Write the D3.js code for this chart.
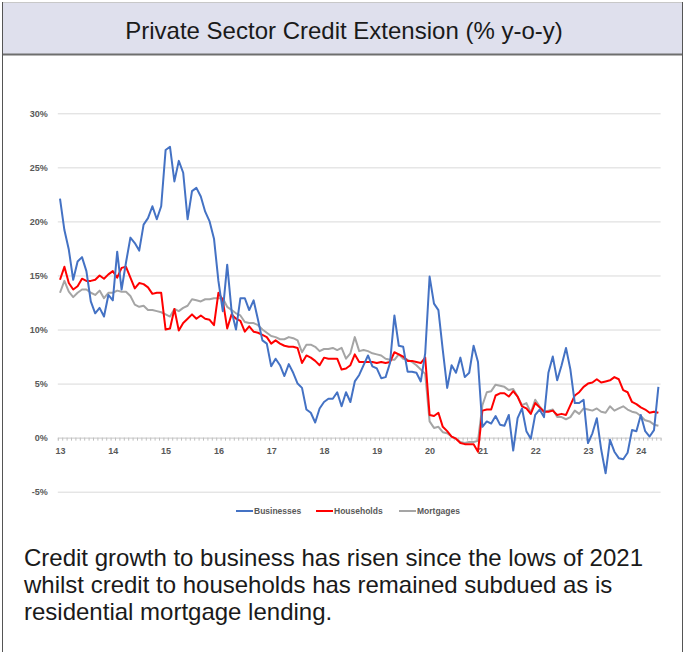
<!DOCTYPE html>
<html>
<head>
<meta charset="utf-8">
<script src="https://cdn.jsdelivr.net/npm/d3@7"></script>
<style>
  body { margin: 0; background: #fff; }
  svg { display: block; font-family: "Liberation Sans", Arial, sans-serif; }
</style>
</head>
<body>
<svg id="chart" width="685" height="652"></svg>
<script>
// monthly % y-o-y, Jan 2013 .. May 2024
const businesses = [
  22.1, 19.2, 17.4, 14.6, 16.3, 16.7, 15.4, 12.6, 11.5, 12.0, 11.2, 13.2,
  12.7, 17.2, 13.7, 16.2, 18.5, 18.0, 17.3, 19.7, 20.3, 21.4, 20.2, 21.4,
  26.6, 26.9, 23.7, 25.6, 24.5, 20.2, 22.8, 23.1, 22.3, 20.9, 20.0, 18.4,
  14.5, 11.7, 16.0, 11.7, 10.0, 12.9, 12.9, 11.8, 12.7, 10.9, 9.0, 8.7,
  6.6, 7.3, 6.7, 5.7, 6.8, 6.0, 5.0, 4.6, 2.6, 2.3, 1.4, 2.7,
  3.3, 3.6, 3.6, 4.2, 2.9, 4.2, 3.3, 5.2, 5.8, 6.7, 7.6, 6.6,
  6.4, 5.5, 5.6, 6.9, 11.3, 8.5, 8.4, 6.1, 6.1, 6.0, 5.2, 7.8,
  14.9, 12.4, 11.8, 8.1, 4.6, 6.7, 6.0, 7.4, 5.6, 6.0, 8.5, 7.0,
  1.0, 1.5, 1.3, 2.0, 1.2, 1.1, 2.1, -1.2, 1.8, 2.7, 0.6, -0.1,
  2.1, 2.6, 1.9, 6.0, 7.5, 5.3, 6.7, 8.3, 6.3, 3.2, 3.2, 3.5,
  -0.5, 0.4, 1.8, -1.1, -3.3, -0.2, -1.3, -1.9, -2.0, -1.4, 0.7, 0.6,
  2.1, 0.6, 0.1, 0.7, 4.7
];
const households = [
  14.6, 15.8, 14.3, 13.7, 14.0, 14.7, 14.5, 14.5, 14.6, 15.0, 14.7, 15.1,
  15.4, 14.8, 15.7, 15.8, 14.8, 13.8, 14.3, 14.2, 13.9, 13.3, 13.4, 13.4,
  10.0, 10.1, 11.9, 9.9, 10.6, 11.0, 11.4, 11.0, 11.3, 11.0, 10.9, 10.4,
  13.4, 12.7, 10.1, 11.4, 11.0, 10.8, 9.8, 10.3, 9.8, 9.7, 9.5, 9.3,
  8.7, 9.0, 8.7, 8.5, 8.4, 8.4, 8.3, 6.9, 7.6, 7.4, 7.1, 6.7,
  7.4, 7.3, 7.3, 7.3, 6.3, 6.4, 6.7, 7.7, 7.0, 7.0, 7.0, 7.0,
  6.9, 7.0, 6.9, 7.0, 7.9, 7.7, 7.5, 7.1, 7.1, 7.0, 6.9, 7.4,
  2.1, 2.0, 2.3, 1.0, 0.6, 0.1, -0.1, -0.5, -0.6, -0.6, -0.6, -1.3,
  2.5, 2.6, 2.6, 3.9, 4.1, 4.1, 3.8, 4.3, 3.8, 2.9, 2.7, 2.2,
  3.2, 2.8, 2.4, 2.4, 2.5, 2.1, 2.2, 2.1, 3.0, 3.9, 4.2, 4.7,
  5.0, 5.1, 5.4, 5.1, 5.2, 5.3, 5.6, 5.4, 4.4, 4.2, 3.3, 3.1,
  2.8, 2.6, 2.3, 2.4, 2.3
];
const mortgages = [
  13.4, 14.5, 13.5, 13.0, 13.4, 13.7, 13.7, 13.4, 13.2, 13.6, 12.9, 13.4,
  13.4, 13.6, 13.5, 13.5, 13.1, 12.3, 12.1, 12.2, 11.8, 11.8, 11.7, 11.6,
  11.4, 11.2, 11.9, 11.7, 12.0, 12.2, 12.8, 12.7, 12.6, 12.8, 12.8, 12.9,
  12.9, 12.9, 12.1, 11.8, 11.5, 11.3, 10.7, 10.6, 10.6, 10.4, 10.0, 9.7,
  9.4, 9.3, 9.1, 9.1, 9.3, 9.2, 9.0, 7.9, 8.6, 8.6, 8.4, 8.0,
  8.2, 8.2, 8.3, 8.1, 8.3, 7.3, 7.8, 9.3, 8.0, 8.1, 8.0, 7.8,
  7.7, 7.6, 7.3, 7.2, 7.2, 7.7, 7.3, 7.2, 7.0, 6.7, 6.3, 5.9,
  1.5, 0.9, 1.0, 0.5, 0.4, 0.1, -0.1, -0.4, -0.5, -0.4, -0.4, -0.3,
  3.0, 4.2, 4.3, 4.9, 4.8, 4.7, 4.4, 4.5, 3.8, 3.0, 3.2, 2.3,
  3.5, 2.9, 2.4, 2.5, 2.6, 1.9, 1.9, 1.7, 1.9, 2.5, 2.2, 2.7,
  2.6, 2.5, 2.7, 2.4, 2.3, 2.9, 2.5, 2.7, 2.9, 2.6, 2.4, 2.3,
  2.0, 1.6, 1.5, 1.2, 1.1
];
const yearLabels = ['13', '14', '15', '16', '17', '18', '19', '20', '21', '22', '23', '24'];
const yTicks = [-5, 0, 5, 10, 15, 20, 25, 30];
const seriesNames = ['Businesses', 'Households', 'Mortgages'];
const seriesColors = ['#4472C4', '#FF0000', '#A5A5A5'];

const textLines = [
  'Credit growth to business has risen since the lows of 2021',
  'whilst credit to households has remained subdued as is',
  'residential mortgage lending.'
];

const svg = d3.select('#chart');
const n = businesses.length;

// frame + title band
svg.append('rect')
  .attr('x', 2.5).attr('y', 2.5).attr('width', 680).attr('height', 52)
  .attr('fill', '#dfe0ed').attr('stroke', '#c8c8c8');
svg.append('line')
  .attr('x1', 2).attr('x2', 683).attr('y1', 54.5).attr('y2', 54.5)
  .attr('stroke', '#6e6e6e').attr('stroke-width', 2);
svg.append('line')
  .attr('x1', 2.5).attr('x2', 2.5).attr('y1', 2).attr('y2', 652)
  .attr('stroke', '#555');
svg.append('line')
  .attr('x1', 682.5).attr('x2', 682.5).attr('y1', 2).attr('y2', 652)
  .attr('stroke', '#555');

svg.append('text')
  .attr('x', 344).attr('y', 39)
  .attr('text-anchor', 'middle')
  .attr('font-size', 24)
  .attr('fill', '#1a1a1a')
  .text('Private Sector Credit Extension (% y-o-y)');

// scales
const x = d3.scaleLinear().domain([0, n]).range([57.8, 660.6]);
const y = d3.scaleLinear().domain([-5, 30]).range([491.7, 113.3]);

// y grid + labels
const yAxis = svg.append('g')
  .attr('transform', `translate(${x(0)},0)`)
  .call(d3.axisLeft(y)
    .tickValues(yTicks)
    .tickSize(-(x(n) - x(0)))
    .tickPadding(10)
    .tickFormat(d => d + '%'));
yAxis.select('.domain').remove();
yAxis.selectAll('line').attr('stroke', '#d9d9d9');
yAxis.selectAll('text')
  .attr('font-size', 9).attr('font-weight', 'bold')
  .attr('fill', '#595959')
  .attr('font-family', '"Liberation Sans", Arial, sans-serif');

// x axis at 0% with month ticks
const xAxis = svg.append('g')
  .attr('transform', `translate(0,${y(0)})`)
  .call(d3.axisBottom(x).tickValues(d3.range(n + 1)).tickSize(3).tickFormat(''));
xAxis.selectAll('line').attr('stroke', '#bfbfbf');
xAxis.select('.domain').attr('stroke', '#d9d9d9');

const xLab = svg.append('g')
  .attr('transform', `translate(0,${y(0)})`)
  .call(d3.axisBottom(x)
    .tickValues(yearLabels.map((d, i) => i * 12 + 0.5))
    .tickSize(0).tickPadding(10)
    .tickFormat((d, i) => yearLabels[i]));
xLab.select('.domain').remove();
xLab.selectAll('text')
  .attr('font-size', 9).attr('font-weight', 'bold')
  .attr('fill', '#595959')
  .attr('font-family', '"Liberation Sans", Arial, sans-serif');

// lines (drawn mortgages first, businesses on top)
const line = d3.line()
  .x((d, i) => x(i + 0.5))
  .y(d => y(d));
const series = [businesses, households, mortgages];
[2, 1, 0].forEach(k => {
  svg.append('path')
    .datum(series[k])
    .attr('d', line)
    .attr('fill', 'none')
    .attr('stroke', seriesColors[k])
    .attr('stroke-width', 2)
    .attr('stroke-linejoin', 'round');
});

// legend
const legendX = [236, 316, 399];
const legend = svg.append('g').attr('transform', 'translate(0,511)');
seriesNames.forEach((name, k) => {
  legend.append('line')
    .attr('x1', legendX[k]).attr('x2', legendX[k] + 17)
    .attr('stroke', seriesColors[k]).attr('stroke-width', 2);
  legend.append('text')
    .attr('x', legendX[k] + 18).attr('y', 3.2)
    .attr('font-size', 8.5)
    .attr('font-weight', 'bold')
    .attr('fill', '#595959')
    .text(name);
});

// commentary
svg.append('g').selectAll('text')
  .data(textLines)
  .join('text')
  .attr('x', 24)
  .attr('y', (d, i) => 566 + i * 27)
  .attr('font-size', 24)
  .attr('fill', '#1a1a1a')
  .text(d => d);
</script>
</body>
</html>
